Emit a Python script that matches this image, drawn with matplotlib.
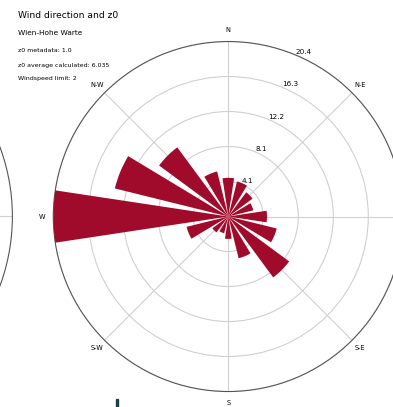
import numpy as np
import matplotlib.pyplot as plt
from matplotlib.patches import Rectangle

# Mean wind speed per 22.5 degree sector, clockwise from north
directions = ["N", "NNE", "NE", "ENE", "E", "ESE", "SE", "SSE",
              "S", "SSW", "SW", "WSW", "W", "WNW", "NW", "NNW"]
angles_deg = np.arange(0, 360, 22.5)
speeds = [4.5, 4.2, 3.5, 3.0, 4.5, 5.8, 8.8, 5.0,
          2.6, 2.0, 2.3, 5.0, 20.36, 13.6, 10.0, 5.4]

compass_labels = ["N", "N-E", "E", "S-E", "S", "S-W", "W", "N-W"]
compass_deg = np.arange(0, 360, 45)

title = "Wind direction and z0"
station = "Wien-Hohe Warte"
z0_meta = 1.0
z0_avg = 6.035
speed_limit = 2

bar_color = "#a00b2c"
grid_color = "#d0d0d0"

fig = plt.figure(figsize=(3.93, 4.07), dpi=100)

# neighbouring rose, only its edge shows at the left border
ax_prev = fig.add_axes([-0.9865, -0.0233, 1.018, 0.983], projection="polar")
ax_prev.set_theta_zero_location("N")
ax_prev.set_theta_direction(-1)
ax_prev.set_xticks(np.deg2rad(compass_deg))
ax_prev.set_xticklabels([])
ax_prev.set_yticks([])
ax_prev.grid(color=grid_color, linewidth=0.8)
ax_prev.spines["polar"].set_color("#555555")
ax_prev.spines["polar"].set_linewidth(0.8)

ax = fig.add_axes([0.1356, 0.038, 0.8906, 0.86], projection="polar")
ax.set_theta_zero_location("N")
ax.set_theta_direction(-1)

rmax = max(speeds)
ax.bar(np.deg2rad(angles_deg), speeds, width=np.deg2rad(17.2),
       color=bar_color, edgecolor="none", zorder=3)
ax.set_ylim(0, rmax)

rticks = rmax * np.array([0.2, 0.4, 0.6, 0.8, 1.0])
ax.set_yticks(rticks)
ax.set_yticklabels([f"{t:.1f}" for t in rticks], fontsize=5.2)
ax.set_rlabel_position(22.5)
ax.set_xticks(np.deg2rad(compass_deg))
ax.set_xticklabels(compass_labels, fontsize=4.8)
ax.tick_params(axis="x", pad=-2.5)
ax.grid(color=grid_color, linewidth=0.8, zorder=0)
ax.set_axisbelow(True)
ax.spines["polar"].set_color("#555555")
ax.spines["polar"].set_linewidth(0.8)

fig.text(0.046, 0.963, title, fontsize=6.6, va="center")
fig.text(0.046, 0.918, station, fontsize=5.3, va="center")
fig.text(0.046, 0.875, f"z0 metadata: {z0_meta}", fontsize=4.5, va="center")
fig.text(0.046, 0.840, f"z0 average calculated: {z0_avg}", fontsize=4.5, va="center")
fig.text(0.046, 0.808, f"Windspeed limit: {speed_limit}", fontsize=4.5, va="center")

# edge of the next panel peeking in at the bottom
fig.patches.append(Rectangle((0.294, 0.0), 0.007, 0.02, transform=fig.transFigure,
                             color="#1c3f47", figure=fig))

fig.savefig("out.png", dpi=100)
